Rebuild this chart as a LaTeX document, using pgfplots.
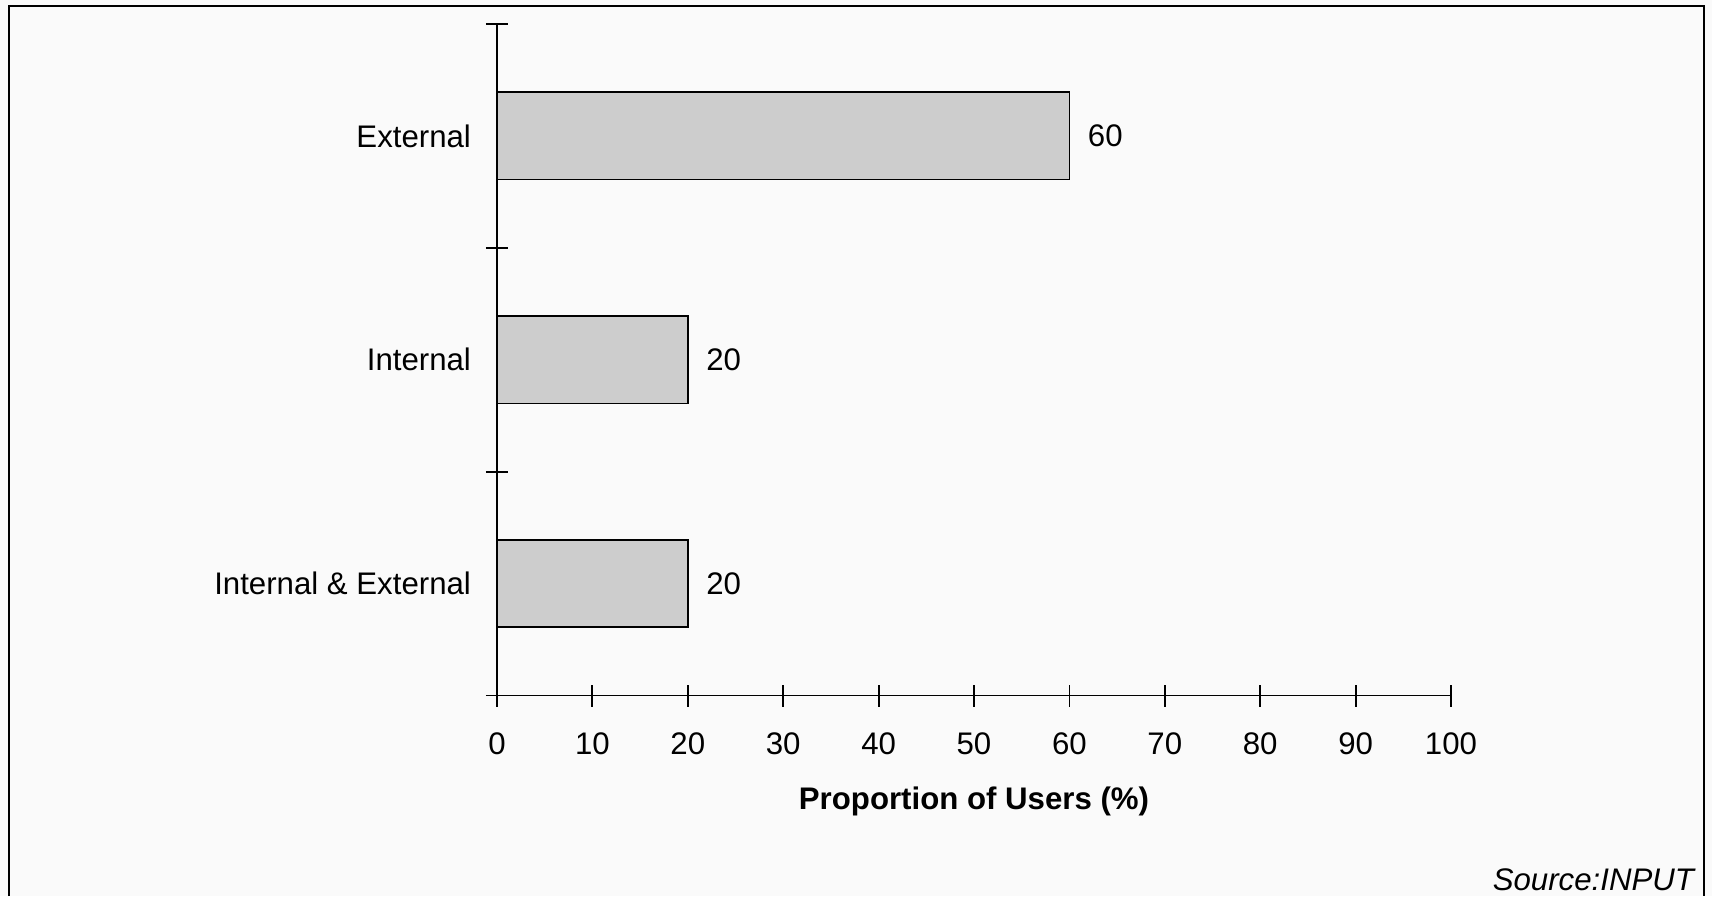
\documentclass[border=0pt]{standalone}
\usepackage{pgfplots}
\pgfplotsset{compat=1.18}
\usepackage{fontspec}
\setmainfont{Liberation Sans}
\definecolor{barfill}{RGB}{205,205,205}
\definecolor{bg}{RGB}{250,250,250}
\begin{document}
\begin{tikzpicture}
\useasboundingbox (-248.5pt,-100.25pt) rectangle (607.5pt,347.75pt);
\fill[bg] (-248.5pt,-100.25pt) rectangle (607.5pt,347.75pt);
\draw[line width=1pt] (-244pt,-100.25pt) -- (-244pt,344.75pt) -- (603.5pt,344.75pt) -- (603.5pt,-100.25pt);
\begin{axis}[
  at={(0pt,0pt)}, anchor=south west,
  scale only axis,
  width=477pt, height=335.75pt,
  xbar, bar width=0.39,
  xmin=0, xmax=100,
  ymin=-0.5, ymax=2.5,
  axis x line*=bottom, axis y line*=left,
  axis line style={line width=0.9pt, -},
  xtick={0,10,...,100},
  ytick={0,1,2},
  yticklabels={Internal \& External, Internal, External},
  minor ytick={-0.5,0.5,1.5,2.5},
  tick align=center,
  major tick length=11pt,
  minor tick length=11pt,
  y tick style={draw=none},
  minor y tick style={draw=black, line width=0.9pt},
  x tick style={line width=0.9pt, black},
  tick label style={font=\fontsize{15.6}{19}\selectfont},
  /pgf/number format/assume math mode=true,
  xticklabel style={yshift=-9.5pt},
  yticklabel style={xshift=-4pt},
  xlabel={\textbf{Proportion of Users (\%)}},
  xlabel style={font=\fontsize{15.6}{19}\selectfont, yshift=-9pt},
  nodes near coords,
  nodes near coords style={font=\fontsize{15.6}{19}\selectfont, anchor=west, xshift=5.5pt},
  clip=false,
]
\addplot[draw=black, line width=0.9pt, fill=barfill] coordinates {(20,0) (20,1) (60,2)};
\end{axis}
\node[anchor=east, font=\fontsize{15.6}{19}\selectfont\itshape] at (602pt,-92pt) {Source:INPUT};
\end{tikzpicture}
\end{document}
